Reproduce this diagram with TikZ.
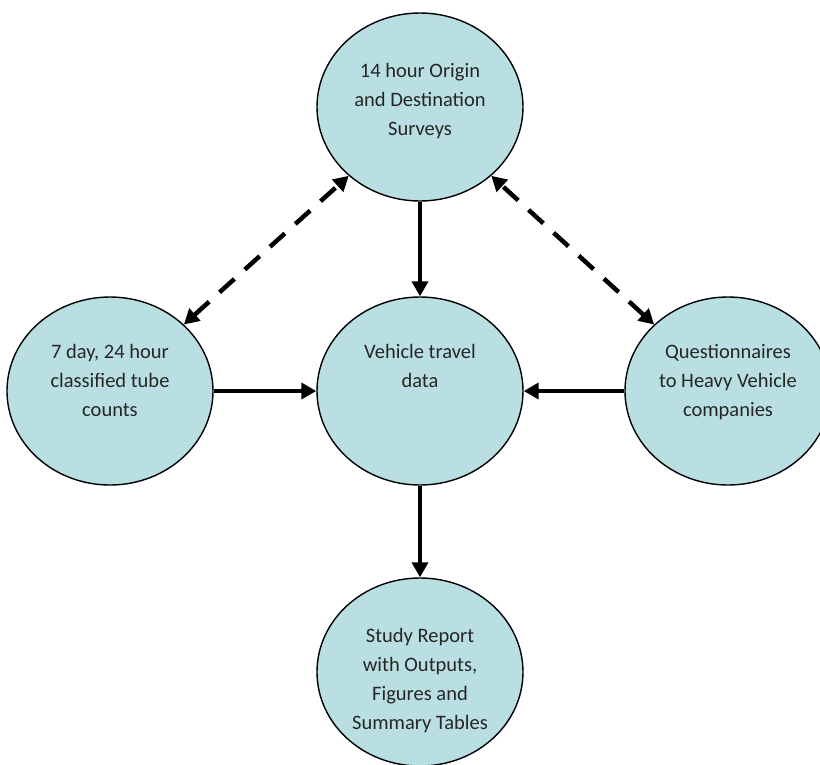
\documentclass[tikz,border=0pt]{standalone}
\usepackage{fontspec}
\setmainfont{Carlito}
\usetikzlibrary{shapes.geometric,arrows.meta,calc}
\definecolor{bubble}{HTML}{B9DFE3}
\definecolor{ink}{HTML}{262626}
\tikzset{
  bubble/.style={ellipse, draw=black, line width=1.4pt, fill=bubble,
    minimum width=206pt, minimum height=188pt, inner sep=0pt},
  txt/.style={align=center, text=ink, inner sep=0pt, anchor=north,
    font=\fontsize{20.5pt}{29pt}\selectfont},
  flow/.style={line width=4.5pt, -{Triangle[length=15pt,width=16pt]}},
  link/.style={line width=4.5pt, dash pattern=on 20pt off 14pt,
    {Triangle[length=15pt,width=16pt]}-{Triangle[length=15pt,width=16pt]}}
}
\begin{document}
\begin{tikzpicture}[x=1pt,y=-1pt]
\useasboundingbox (0,0) rectangle (820,764);
\node[bubble] (top) at (420,107) {};
\node[bubble] (mid) at (420,391) {};
\node[bubble] (left) at (110,391) {};
\node[bubble] (right) at (728,391) {};
\node[bubble] (bot) at (420,672) {};
\node[txt] (toptxt) at (420,63) {14 hour Origin\\and Destination\\Surveys};
\node[txt] (midtxt) at (420,344) {Vehicle travel\\data};
\node[txt] (lefttxt) at (110,344) {7 day, 24 hour\\classified tube\\counts};
\node[txt] (righttxt) at (728,344) {Questionnaires\\to Heavy Vehicle\\companies};
\node[txt] (bottxt) at (420,628) {Study Report\\with Outputs,\\Figures and\\Summary Tables};
\draw[flow] (top.south) -- (mid.north);
\draw[flow] (left.east) -- (mid.west);
\draw[flow] (right.west) -- (mid.east);
\draw[flow] (mid.south) -- (bot.north);
\draw[link] (left.42) -- (top.224);
\draw[link] (right.138) -- (top.316);
\end{tikzpicture}
\end{document}
